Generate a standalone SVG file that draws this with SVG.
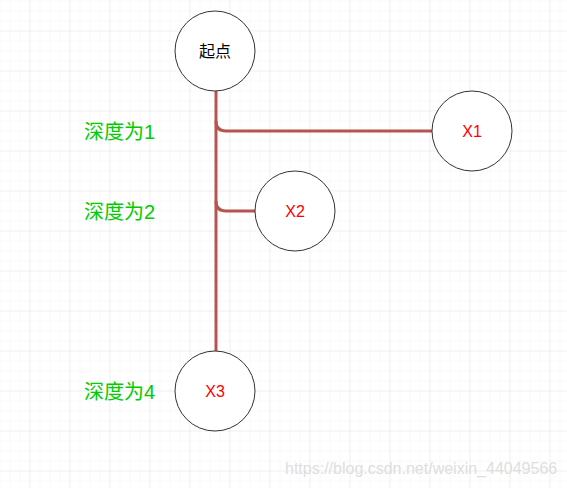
<svg xmlns="http://www.w3.org/2000/svg" width="567" height="488" viewBox="0 0 567 488">
<defs>
<pattern id="minor" width="10" height="10" patternUnits="userSpaceOnUse" x="0.5" y="1.5">
<path d="M10 0V10M0 10H10" fill="none" stroke="#f3f3f3" stroke-width="1"/>
</pattern>
<pattern id="major" width="40" height="40" patternUnits="userSpaceOnUse" x="-9.5" y="-8.5">
<path d="M40 0V40M0 40H40" fill="none" stroke="#e6e6e6" stroke-width="1"/>
</pattern>
</defs>
<style>
.node{fill:#ffffff;stroke:#333333;stroke-width:1}
.lbl{font-family:"Liberation Sans","Noto Sans CJK SC",sans-serif;font-size:16px;text-anchor:middle;dominant-baseline:central}
.red{fill:#ff0000}
.depth{font-family:"Liberation Sans","Noto Sans CJK SC",sans-serif;font-size:20px;fill:#00cc00;dominant-baseline:central}
.edge{fill:none;stroke:#b85450;stroke-width:3}
</style>
<rect width="567" height="488" fill="#ffffff"/>
<rect width="567" height="488" fill="url(#minor)"/>
<rect width="567" height="488" fill="url(#major)"/>
<g id="connectors">
<path class="edge" d="M216 91V351"/>
<path class="edge" d="M216 121Q216 131 226 131H432"/>
<path class="edge" d="M216 201Q216 211 226 211H255"/>
</g>
<g id="start">
<circle class="node" cx="215" cy="51" r="40"/>
<text class="lbl" x="215" y="51" fill="#000000">起点</text>
</g>
<g id="x1">
<circle class="node" cx="472" cy="131" r="40"/>
<text class="lbl red" x="472" y="131">X1</text>
</g>
<g id="x2">
<circle class="node" cx="295" cy="211" r="40"/>
<text class="lbl red" x="295" y="211">X2</text>
</g>
<g id="x3">
<circle class="node" cx="215" cy="391" r="40"/>
<text class="lbl red" x="215" y="391">X3</text>
</g>
<g id="labels">
<text class="depth" x="84" y="132">深度为1</text>
<text class="depth" x="84" y="212">深度为2</text>
<text class="depth" x="84" y="392">深度为4</text>
</g>
<text x="285" y="468" font-family="Liberation Sans,sans-serif" font-size="16" fill="#dedede" dominant-baseline="central">https://blog.csdn.net/weixin_44049566</text>
</svg>
